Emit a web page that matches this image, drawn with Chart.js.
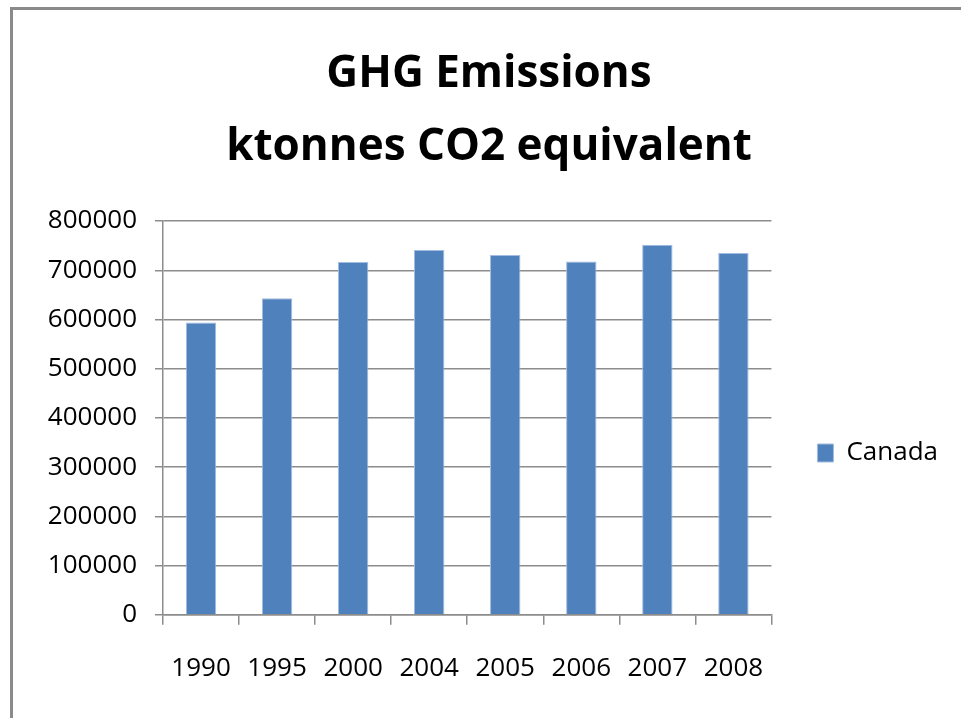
<!DOCTYPE html>
<html>
<head>
<meta charset="utf-8">
<script src="https://cdn.jsdelivr.net/npm/chart.js@4"></script>
<style>
  html, body { margin: 0; padding: 0; background: #fff; overflow: hidden; }
  #frame { position: absolute; left: 10px; top: 7px; width: 1200px; height: 900px;
           border-left: 3px solid #8a8a8a; border-top: 3px solid #8a8a8a; }
  #wrap { position: absolute; left: 0; top: 0; width: 961px; height: 718px; }
</style>
</head>
<body>
<div id="frame"></div>
<div id="wrap"><canvas id="ghgChart"></canvas></div>
<script>
// GHG emissions, ktonnes CO2 equivalent
var years = ["1990","1995","2000","2004","2005","2006","2007","2008"];
var canada = [594000, 643000, 717000, 741000, 731000, 718000, 752000, 735000];
var titleLines = ["GHG Emissions", "ktonnes CO2 equivalent"];
var seriesName = "Canada";

Chart.defaults.font.family = "'Open Sans', 'DejaVu Sans', sans-serif";
Chart.defaults.color = "#000";

const CHART = document.getElementById("ghgChart");
let barChart = new Chart(CHART, {
  type: 'bar',
  data: {
    labels: years,
    datasets: [{
      label: seriesName,
      data: canada,
      backgroundColor: "#4f81bd",
      borderColor: "#a3bde0",
      borderWidth: 1,
      barPercentage: 0.4,
      categoryPercentage: 1.0
    }]
  },
  options: {
    responsive: true,
    maintainAspectRatio: false,
    animation: false,
    layout: { padding: { top: 16, left: 30, right: 13, bottom: 6 } },
    plugins: {
      title: {
        display: true,
        text: titleLines,
        color: "#000",
        font: { size: 44, weight: 'bold', lineHeight: 1.66 },
        padding: { top: 22, bottom: 37 }
      },
      legend: {
        position: 'right',
        // blank legend title only pushes the entry down to Excel's spot
        title: { display: true, text: ' ', font: { size: 10 }, padding: { top: 0, bottom: 166 } },
        labels: {
          boxWidth: 16,
          boxHeight: 18,
          color: "#000",
          font: { size: 26 },
          padding: 46
        }
      },
      tooltip: { enabled: false }
    },
    scales: {
      x: {
        grid: {
          drawOnChartArea: false,
          drawTicks: true,
          tickLength: 10,
          color: "#8c8c8c",
          lineWidth: 1.5
        },
        border: { color: "#8c8c8c", width: 1.5 },
        ticks: { font: { size: 26 }, color: "#000", padding: 28, maxRotation: 0 }
      },
      y: {
        min: 0,
        max: 800000,
        afterFit: function(scale) { scale.width = 133; },
        grid: {
          color: "#8c8c8c",
          lineWidth: 1.5,
          tickLength: 8
        },
        border: { color: "#8c8c8c", width: 1.5 },
        ticks: {
          stepSize: 100000, font: { size: 26 }, color: "#000", padding: 18,
          callback: function(v) { return String(v); }
        }
      }
    }
  }
});
</script>
</body>
</html>
